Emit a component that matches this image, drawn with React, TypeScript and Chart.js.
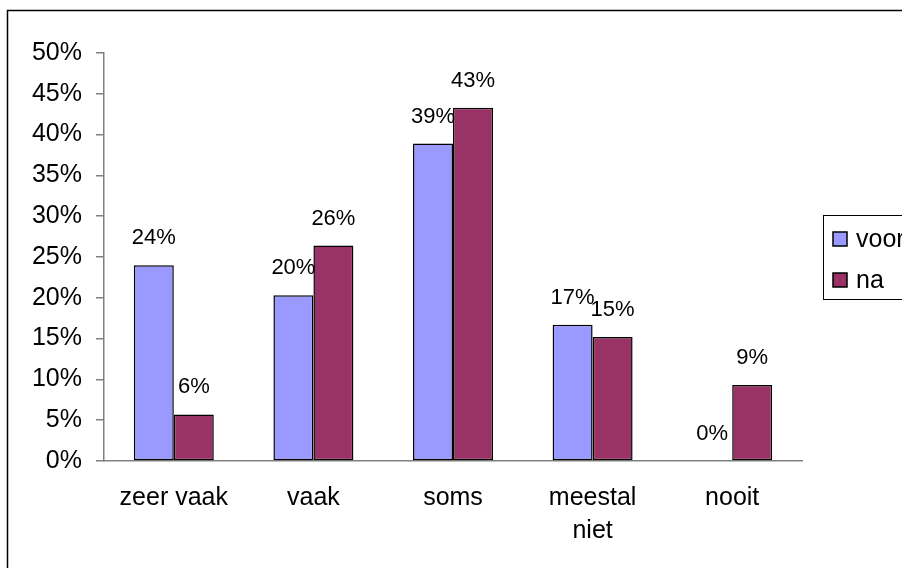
import React, { useEffect, useRef } from "react";
import { Chart, registerables } from "chart.js";

Chart.register(...registerables);

// Answer categories on the x axis
const categories: (string | string[])[] = ["zeer vaak", "vaak", "soms", ["meestal", "niet"], "nooit"];
// Share of respondents before ("voor") and after ("na")
const voorValues = [0.240, 0.203, 0.389, 0.167, 0.0];
const naValues = [0.057, 0.264, 0.433, 0.152, 0.093];
const seriesNames = ["voor", "na"];
const seriesColors = ["#9999FF", "#993366"];
// Y axis range and step
const yMin = 0;
const yMax = 0.5;
const yStep = 0.05;

const FONT = "'Liberation Sans', Arial, sans-serif";
const pct = (v: number) => `${Math.round(v * 100)}%`;

// Value labels centred above each bar
const valueLabels = {
  id: "valueLabels",
  afterDatasetsDraw(chart: any) {
    const ctx = chart.ctx;
    ctx.save();
    ctx.font = `22px ${FONT}`;
    ctx.fillStyle = "#000";
    ctx.textAlign = "center";
    ctx.textBaseline = "alphabetic";
    chart.data.datasets.forEach((ds: any, di: number) => {
      const meta = chart.getDatasetMeta(di);
      meta.data.forEach((bar: any, i: number) => {
        ctx.fillText(pct(ds.data[i]), bar.x, bar.y - 21);
      });
    });
    ctx.restore();
  },
};

// Outer frame and the boxed legend on the right
const frameAndLegend = {
  id: "frameAndLegend",
  afterDraw(chart: any) {
    const ctx = chart.ctx;
    ctx.save();
    ctx.strokeStyle = "#000";
    ctx.lineWidth = 1.5;
    ctx.strokeRect(7.5, 10.5, 1200, 1200);

    ctx.lineWidth = 1;
    ctx.strokeRect(823.5, 215.5, 300, 84);
    ctx.font = `25px ${FONT}`;
    ctx.textBaseline = "alphabetic";
    ctx.textAlign = "left";
    const baselines = [247, 288];
    chart.data.datasets.forEach((ds: any, i: number) => {
      const y = baselines[i];
      ctx.fillStyle = ds.backgroundColor;
      ctx.fillRect(833, y - 15, 14, 14);
      ctx.lineWidth = 1.5;
      ctx.strokeStyle = "#000";
      ctx.strokeRect(833, y - 15, 14, 14);
      ctx.fillStyle = "#000";
      ctx.fillText(ds.label, 856, y);
    });
    ctx.restore();
  },
};

export default function App() {
  const canvasRef = useRef<HTMLCanvasElement | null>(null);

  useEffect(() => {
    const canvas = canvasRef.current;
    if (!canvas) return;
    const chart = new Chart(canvas, {
      type: "bar",
      data: {
        labels: categories,
        datasets: [
          {
            label: seriesNames[0],
            data: voorValues,
            backgroundColor: seriesColors[0],
            borderColor: "#000",
            borderWidth: 1.5,
            borderSkipped: false,
          },
          {
            label: seriesNames[1],
            data: naValues,
            backgroundColor: seriesColors[1],
            borderColor: "#000",
            borderWidth: 1.5,
            borderSkipped: false,
          },
        ],
      },
      options: {
        responsive: false,
        animation: false,
        events: [],
        layout: { padding: { left: 0, right: 100, top: 53, bottom: 0 } },
        datasets: { bar: { categoryPercentage: 0.573, barPercentage: 1.0 } },
        plugins: { legend: { display: false }, tooltip: { enabled: false } },
        scales: {
          x: {
            grid: { display: true, drawOnChartArea: false, drawTicks: false },
            border: { display: true, color: "#808080", width: 1.5 },
            ticks: {
              color: "#000",
              font: { family: FONT, size: 25, lineHeight: 1.3 },
              padding: 21,
              maxRotation: 0,
              autoSkip: false,
            },
            afterFit: (s: any) => { s.height = 107; },
          },
          y: {
            min: yMin,
            max: yMax,
            ticks: {
              stepSize: yStep,
              color: "#000",
              font: { family: FONT, size: 25 },
              padding: 14,
              callback: (v: any) => pct(Number(v)),
            },
            grid: { drawOnChartArea: false, drawTicks: true, tickLength: 8, color: "#808080", lineWidth: 1.5 },
            border: { display: true, color: "#808080", width: 1.5 },
            afterFit: (s: any) => { s.width = 104; },
          },
        },
      },
      plugins: [valueLabels, frameAndLegend],
    });
    return () => chart.destroy();
  }, []);

  return (
    <div style={{ position: "fixed", left: 0, top: 0, width: 902, height: 568, background: "#fff", overflow: "hidden" }}>
      <canvas ref={canvasRef} width={902} height={568} style={{ display: "block" }} />
    </div>
  );
}
